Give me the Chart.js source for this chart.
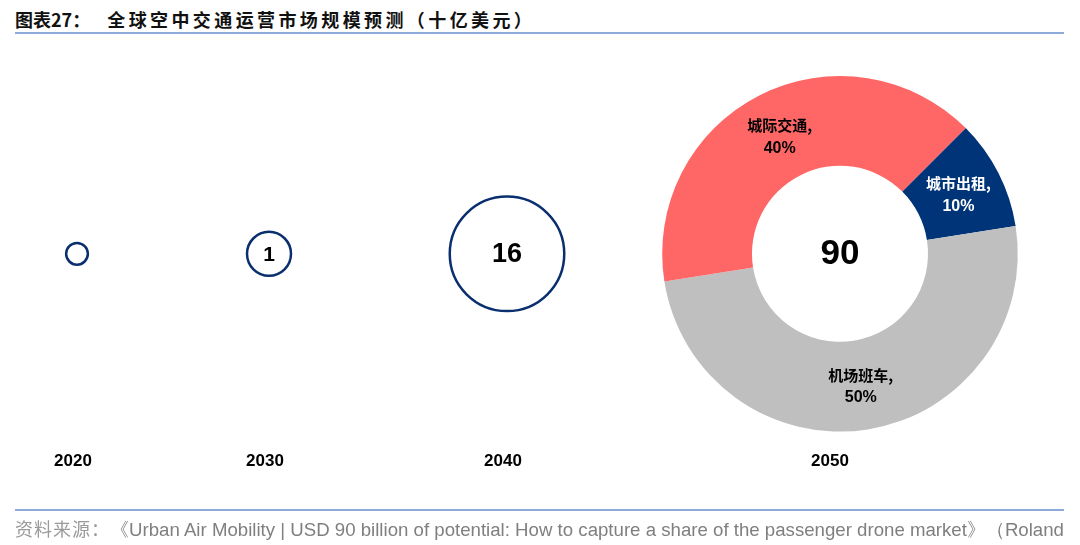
<!DOCTYPE html>
<html>
<head>
<meta charset="utf-8">
<script src="https://cdn.jsdelivr.net/npm/chart.js@4/dist/chart.umd.min.js"></script>
<style>
    body { margin: 0; background: #fff; }
    #page { position: relative; width: 1080px; height: 545px; overflow: hidden; }
    #title { position: absolute; left: 15px; top: 6px; font: bold 18px "Noto Sans CJK SC", sans-serif; color: #111; white-space: nowrap; }
    #title .rest { letter-spacing: 3.4px; margin-left: 17px; }
    .rule { position: absolute; left: 15px; width: 1049px; height: 2px; background: #8eaadb; }
    .panel { position: absolute; top: 50px; height: 460px; }
    .src { position: absolute; font: 18.65px "Liberation Sans", sans-serif; color: #7f7f7f; white-space: nowrap; }
    .cn { font-family: "Noto Sans CJK SC", sans-serif; font-size: 18px; letter-spacing: 1px; color: #9a9a9a; }
</style>
</head>
<body>
<div id="page">
    <div id="title">图表27：<span class="rest">全球空中交通运营市场规模预测（十亿美元）</span></div>
    <div class="rule" style="top:32px"></div>
    <div id="panels"></div>
    <div class="rule" style="top:509px"></div>
    <div class="src" style="left:15px; top:515px"><span class="cn">资料来源：</span>《Urban Air Mobility | USD 90 billion of potential: How to capture a share of the passenger drone market》（Roland</div>
    <div class="src" style="left:113px; top:540px">Berger）<span class="cn">，华安证券研究所</span></div>
</div>
<script>
// 数据
var years = ['2020', '2030', '2040', '2050'];
var marketSize = [0.13, 1, 16, 90];
var sizeLabels = ['', '1', '16', '90'];
var segments2050 = ['城市出租', '机场班车', '城际交通'];
var shares2050 = [10, 50, 40];

var navy = '#0a2f6e';
var segColors = ['#003478', '#bfbfbf', '#ff6666'];
var segTextColors = ['#fff', '#000', '#000'];

// 面板位置（每年一个小图）
var panelLeft = [0, 154, 384, 630];
var panelWidth = [154, 230, 246, 420];
var labelShift = [-4, -4, -4, -10];
var valueFont = [0, 21, 27, 35];

var valueLabels = {
    id: 'valueLabels',
    afterDatasetsDraw: function(chart, args, opts) {
        var ctx = chart.ctx;
        var meta = chart.getDatasetMeta(0);
        ctx.save();
        ctx.textAlign = 'center';
        ctx.textBaseline = 'middle';
        if (opts.text) {
            var p = meta.data[0];
            ctx.fillStyle = '#000';
            ctx.font = 'bold ' + opts.size + 'px "Liberation Sans"';
            ctx.fillText(opts.text, p.x, p.y + 1);
        }
        if (opts.segments) {
            meta.data.forEach(function(arc, i) {
                var c = arc.getCenterPoint();
                ctx.fillStyle = segTextColors[i];
                ctx.font = 'bold 15px "Noto Sans CJK SC"';
                ctx.fillText(chart.data.labels[i] + ',', c.x, c.y - 10);
                ctx.font = 'bold 16px "Liberation Sans"';
                ctx.fillText(chart.data.datasets[0].data[i] + '%', c.x, c.y + 13);
            });
        }
        ctx.restore();
    }
};

var holder = document.getElementById('panels');

years.forEach(function(year, i) {
    var div = document.createElement('div');
    div.className = 'panel';
    div.style.left = panelLeft[i] + 'px';
    div.style.width = panelWidth[i] + 'px';
    var canvas = document.createElement('canvas');
    div.appendChild(canvas);
    holder.appendChild(div);

    // 年份放在底部的类别轴上
    var xAxis = {
        type: 'category',
        labels: [year],
        offset: true,
        position: 'bottom',
        grid: { display: false, drawTicks: false },
        border: { display: false },
        ticks: {
            color: '#000',
            padding: 20,
            labelOffset: labelShift[i],
            font: { family: 'Liberation Sans', size: 17, weight: 'bold' }
        }
    };
    var common = {
        responsive: true,
        maintainAspectRatio: false,
        animation: false,
        events: [],
        layout: { autoPadding: false, padding: { top: 26, bottom: 18 } },
        plugins: {
            legend: { display: false },
            tooltip: { enabled: false },
            valueLabels: { text: sizeLabels[i], size: valueFont[i] }
        }
    };

    if (i < years.length - 1) {
        // 气泡半径按规模缩放
        var r = 22 * Math.pow(marketSize[i], 0.345);
        new Chart(canvas, {
            type: 'bubble',
            data: {
                datasets: [{
                    data: [{ x: year, y: 0, r: r }],
                    backgroundColor: '#fff',
                    borderColor: navy,
                    borderWidth: 2.5
                }]
            },
            options: Object.assign(common, {
                scales: {
                    x: xAxis,
                    y: { display: false, min: -1, max: 1 }
                }
            }),
            plugins: [valueLabels]
        });
    } else {
        common.plugins.valueLabels.segments = true;
        new Chart(canvas, {
            type: 'doughnut',
            data: {
                labels: segments2050,
                datasets: [{
                    data: shares2050,
                    backgroundColor: segColors,
                    borderWidth: 0
                }]
            },
            options: Object.assign(common, {
                cutout: '49.5%',
                rotation: 45,
                scales: { x: xAxis }
            }),
            plugins: [valueLabels]
        });
    }
});
</script>
</body>
</html>
